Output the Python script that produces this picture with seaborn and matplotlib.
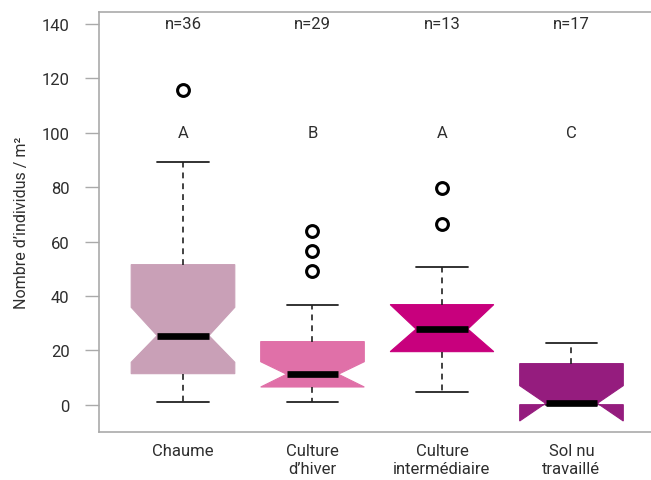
import numpy as np
import matplotlib
matplotlib.use("Agg")
import matplotlib.pyplot as plt
import seaborn as sns

# valeurs
categories = ["Chaume", "Culture\nd\u2019hiver", "Culture\ninterm\u00e9diaire", "Sol nu\ntravaill\u00e9"]
q1 = [11.4, 6.5, 19.5, 0.0]
med = [25.4, 11.2, 27.8, 0.5]
q3 = [51.5, 23.2, 36.8, 15.1]
whislo = [1.1, 1.1, 4.6, 0.0]
whishi = [89.3, 36.8, 50.5, 22.7]
cilo = [15.6, 6.5, 19.5, -6.0]
cihi = [35.8, 15.8, 36.8, 7.0]
outliers = [[115.7], [49.3, 56.4, 63.7], [66.4, 79.7], []]
n_obs = [36, 29, 13, 17]
letters = ["A", "B", "A", "C"]
colors = ["#C9A0B7", "#E070A8", "#C8007D", "#951C7E"]

sns.set_theme(style="white")
plt.rcParams["font.family"] = ["Roboto", "DejaVu Sans"]

txt = "#2E2E2E"
fig = plt.figure(figsize=(6.51, 4.81), dpi=100)
ax = fig.add_axes([0.1516, 0.0992, 0.8484, 0.8744])

stats = []
for i in range(len(categories)):
    stats.append({
        "q1": q1[i], "med": med[i], "q3": q3[i],
        "whislo": whislo[i], "whishi": whishi[i],
        "cilo": cilo[i], "cihi": cihi[i],
        "fliers": outliers[i], "label": categories[i],
    })

positions = np.arange(1, len(categories) + 1)
bp = ax.bxp(stats, positions=positions, widths=0.8, shownotches=True,
            patch_artist=True,
            medianprops=dict(color="black", linewidth=4.8, solid_capstyle="butt"),
            whiskerprops=dict(color="#222222", linewidth=1.2, linestyle=(0, (3.5, 3))),
            capprops=dict(color="#222222", linewidth=1.3),
            flierprops=dict(marker="o", markerfacecolor="none", markeredgecolor="black",
                            markeredgewidth=2.2, markersize=8.5))
for patch, c in zip(bp["boxes"], colors):
    patch.set_facecolor(c)
    patch.set_edgecolor(c)
    patch.set_linewidth(0.8)

for x, n, l in zip(positions, n_obs, letters):
    ax.text(x, 140, f"n={n}", ha="center", va="center", fontsize=12, color=txt)
    ax.text(x, 100, l, ha="center", va="center", fontsize=12, color=txt)

ax.set_xlim(0.349, 4.614)
ax.set_ylim(-10.15, 144.5)
ax.set_yticks(np.arange(0, 141, 20))
ax.set_ylabel("Nombre d\u2019individus / m\u00b2", fontsize=11.5, color=txt, labelpad=9)

ax.tick_params(axis="y", length=10, width=1, color="#AAAAAA", pad=11,
               labelsize=12, labelcolor=txt, left=True)
ax.tick_params(axis="x", length=0, pad=8, labelsize=12, labelcolor=txt)
for side in ["left", "bottom", "top"]:
    ax.spines[side].set_color("#AAAAAA")
    ax.spines[side].set_linewidth(1.2)
ax.spines["right"].set_visible(False)

fig.savefig("out.png", dpi=100)
